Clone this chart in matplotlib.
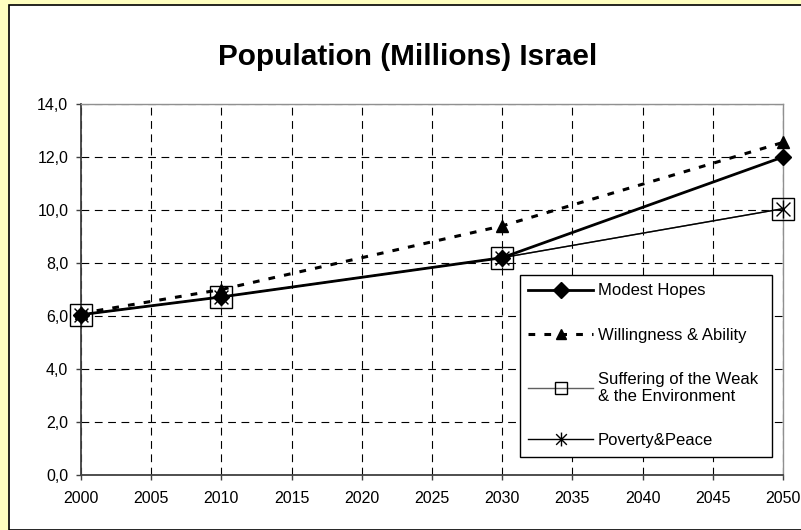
import matplotlib
matplotlib.use('Agg')
import matplotlib.pyplot as plt
from matplotlib.path import Path
from matplotlib.patches import Rectangle
from matplotlib.ticker import FuncFormatter

plt.rcParams['font.family'] = ['Liberation Sans', 'DejaVu Sans']

# data
years = [2000, 2010, 2030, 2050]
modest_hopes = [6.05, 6.72, 8.2, 12.0]
willingness = [6.1, 7.0, 9.4, 12.55]
suffering = [6.05, 6.72, 8.2, 10.05]
poverty = [6.05, 6.72, 8.2, 10.05]

x_ticks = list(range(2000, 2051, 5))
y_ticks = [0, 2, 4, 6, 8, 10, 12, 14]

# excel style asterisk: an x with a vertical bar
star = Path([(-1, -1), (1, 1), (-1, 1), (1, -1), (0, -1.3), (0, 1.3)],
            [Path.MOVETO, Path.LINETO, Path.MOVETO, Path.LINETO, Path.MOVETO, Path.LINETO])

fig = plt.figure(figsize=(8.01, 5.30), dpi=100)
fig.patch.set_facecolor('#FFFFC0')
# white chart area with black border
fig.patches.append(Rectangle((9 / 801, 0), 1.0, 1 - 5 / 530, transform=fig.transFigure,
                             facecolor='white', edgecolor='black', linewidth=1.2, zorder=-5))

ax = fig.add_axes([81 / 801, 55 / 530, 702 / 801, 371 / 530])
ax.set_facecolor('white')

ax.plot(years, modest_hopes, color='black', linewidth=2, marker='D', markersize=8.5,
        label='Modest Hopes', zorder=5, clip_on=False)
ax.plot(years, willingness, color='black', linewidth=2.2, linestyle=(0, (2.2, 3)),
        marker='^', markersize=8, label='Willingness & Ability', zorder=4, clip_on=False)
ax.plot(years, suffering, color='#606060', linewidth=1, marker='s', markersize=15.5,
        markerfacecolor='none', markeredgecolor='black', markeredgewidth=1,
        label='Suffering of the Weak\n& the Environment', zorder=3, clip_on=False)
ax.plot(years, poverty, color='black', linewidth=1, marker=star, markersize=13,
        markeredgewidth=1, label='Poverty&Peace', zorder=3, clip_on=False)

ax.set_xlim(2000, 2050)
ax.set_ylim(0, 14)
ax.set_xticks(x_ticks)
ax.set_yticks(y_ticks)
ax.yaxis.set_major_formatter(FuncFormatter(lambda v, p: f'{v:.1f}'.replace('.', ',')))
ax.tick_params(direction='out', length=3.6, width=1, colors='#404040', labelcolor='black',
               labelsize=11.5)
ax.tick_params(axis='y', pad=5.5)
ax.tick_params(axis='x', pad=8)
ax.grid(True, color='black', linestyle=(0, (7, 5)), linewidth=0.8)

for side in ['left', 'bottom']:
    ax.spines[side].set_color('#404040')
    ax.spines[side].set_linewidth(1.3)
for side in ['top', 'right']:
    ax.spines[side].set_color('#909090')
    ax.spines[side].set_linewidth(1)

fig.text(408 / 801, 1 - 57 / 530, 'Population (Millions) Israel', ha='center', va='center',
         fontsize=21.4, fontweight='bold')

leg = ax.legend(loc='upper left', bbox_to_anchor=(0.6254, 0.539, 0.359, 0.0),
                mode='expand', fontsize=12, frameon=True, fancybox=False,
                edgecolor='black', framealpha=1, handlelength=3.9, handletextpad=0.25,
                labelspacing=1.75, borderpad=0.5, borderaxespad=0)
leg.get_frame().set_linewidth(1)
leg.set_zorder(10)
for h, ms in zip(leg.legend_handles, [8.5, 7, 9, 10]):
    h.set_markersize(ms)

fig.savefig('out.png', dpi=100, facecolor=fig.get_facecolor())
